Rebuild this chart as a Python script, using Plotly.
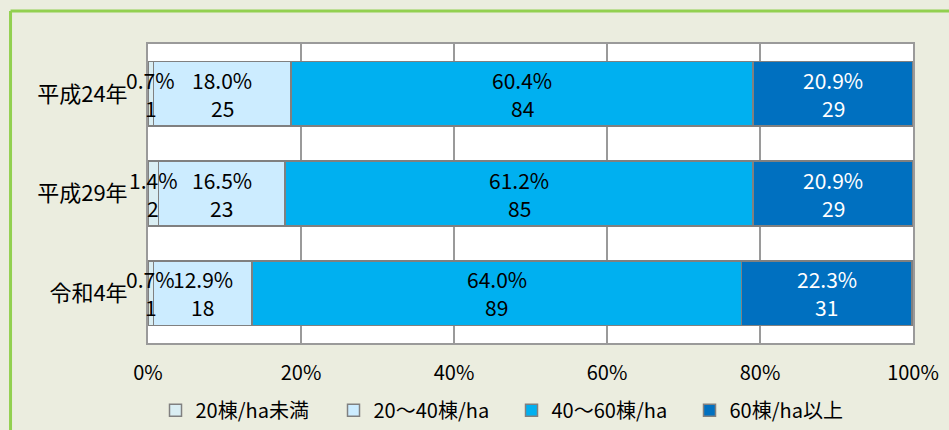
import plotly.graph_objects as go

categories = ["平成24年", "平成29年", "令和4年"]
series_names = ["20棟/ha未満", "20～40棟/ha", "40～60棟/ha", "60棟/ha以上"]
pct_lt20 = [0.7, 1.4, 0.7]
pct_20_40 = [18.0, 16.5, 12.9]
pct_40_60 = [60.4, 61.2, 64.0]
pct_ge60 = [20.9, 20.9, 22.3]
cnt_lt20 = [1, 2, 1]
cnt_20_40 = [25, 23, 18]
cnt_40_60 = [84, 85, 89]
cnt_ge60 = [29, 29, 31]
tick_vals = [0, 20, 40, 60, 80, 100]
tick_text = ["0%", "20%", "40%", "60%", "80%", "100%"]

colors = ["#DAEEF3", "#CCECFF", "#00B0F0", "#0070C0"]
label_colors = ["#000000", "#000000", "#000000", "#FFFFFF"]
pcts = [pct_lt20, pct_20_40, pct_40_60, pct_ge60]
cnts = [cnt_lt20, cnt_20_40, cnt_40_60, cnt_ge60]

FONT = "Noto Sans CJK JP"

fig = go.Figure()
for name, vals, col in zip(series_names, pcts, colors):
    fig.add_trace(go.Bar(
        y=categories, x=vals, name=name, orientation="h",
        marker=dict(color=col, line=dict(color="#808080", width=1.5)),
        width=0.65, hoverinfo="skip",
    ))

annotations = []
for ci, cat in enumerate(categories):
    left = 0.0
    for si in range(4):
        v = pcts[si][ci]
        mid = left + v / 2
        left += v
        for txt, ys in ((f"{v:.1f}%", 14), (str(cnts[si][ci]), -14)):
            annotations.append(dict(
                x=mid, y=cat, xref="x", yref="y", text=txt, showarrow=False,
                yshift=ys, font=dict(family=FONT, size=21, color=label_colors[si]),
            ))

fig.update_layout(
    barmode="stack",
    width=949, height=430,
    margin=dict(l=148, r=36, t=44, b=87, autoexpand=False),
    paper_bgcolor="#EBEDDF",
    plot_bgcolor="#FFFFFF",
    font=dict(family=FONT, size=18, color="#000000"),
    annotations=annotations,
    showlegend=True,
    legend=dict(orientation="h", x=0.539, xanchor="center", y=0.046, yanchor="middle",
                xref="container", yref="container",
                font=dict(family=FONT, size=20), bgcolor="rgba(0,0,0,0)",
                itemwidth=30, entrywidth=133, traceorder="normal"),
    xaxis=dict(range=[0, 100], tickvals=tick_vals, ticktext=tick_text,
               showgrid=True, gridcolor="#9A9A9A", gridwidth=2,
               showline=True, linecolor="#9A9A9A", linewidth=2, mirror=True,
               ticks="outside", ticklen=11, tickcolor="rgba(0,0,0,0)",
               zeroline=False, tickfont=dict(family=FONT, size=20), fixedrange=True),
    yaxis=dict(categoryorder="array", categoryarray=categories, autorange="reversed",
               showgrid=False, showline=True, linecolor="#9A9A9A", linewidth=2, mirror=True,
               ticks="outside", ticklen=14, tickcolor="rgba(0,0,0,0)",
               tickfont=dict(family=FONT, size=22), fixedrange=True),
    shapes=[
        dict(type="line", xref="paper", yref="paper", x0=-0.1797, x1=1.1, y0=1.110, y1=1.110,
             line=dict(color="#92D050", width=3)),
        dict(type="line", xref="paper", yref="paper", x0=-0.1797, x1=-0.1797, y0=1.110, y1=-0.3,
             line=dict(color="#92D050", width=3)),
    ],
)

fig.write_html("out.html")
